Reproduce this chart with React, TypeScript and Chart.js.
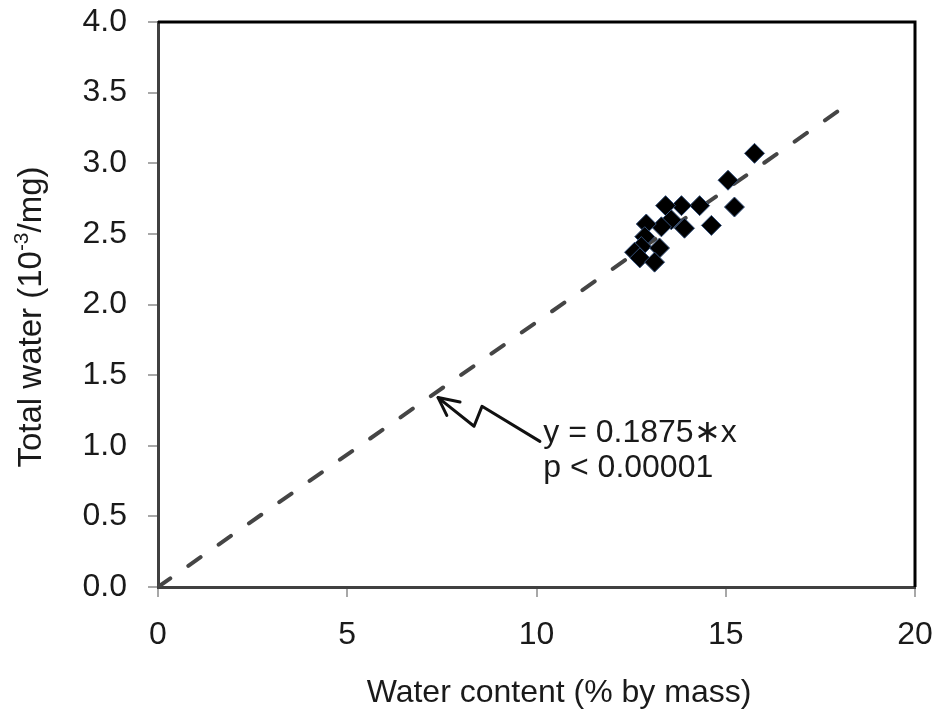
import { useEffect, useRef } from 'react';
import { Chart, registerables } from 'chart.js';

Chart.register(...registerables);

// Measured points: water content (% by mass) vs total water (10^-3/mg)
const WATER_CONTENT = [15.76, 15.06, 15.23, 14.31, 14.62, 13.83, 13.41, 13.91, 13.56, 13.3, 12.9, 12.86, 12.77, 13.25, 12.59, 12.73, 13.12];
const TOTAL_WATER = [3.07, 2.88, 2.69, 2.7, 2.56, 2.7, 2.7, 2.54, 2.6, 2.55, 2.57, 2.48, 2.41, 2.4, 2.37, 2.33, 2.3];

// Regression line end points (y = 0.1875*x)
const FIT_X = [0, 18];
const FIT_Y = [0, 3.375];

const X_TICKS = [0, 5, 10, 15, 20];
const Y_TICKS = [0, 0.5, 1, 1.5, 2, 2.5, 3, 3.5, 4];

const X_TITLE = 'Water content (% by mass)';
const Y_TITLE_PARTS = ['Total water (10', '-3', '/mg)'];
const EQUATION_LINES = ['y = 0.1875\u2217x', 'p < 0.00001'];

// Annotation anchors in data coordinates
const LABEL_X = 10.18;
const LABEL_Y = [1.088, 0.84];
const ARROW_X = [7.4, 8.35, 8.56, 10.09];
const ARROW_Y = [1.341, 1.138, 1.279, 1.031];
const ARROW_HEAD_X = [7.98, 7.4, 7.63];
const ARROW_HEAD_Y = [1.31, 1.341, 1.215];

const FONT = '"Liberation Sans", Arial, sans-serif';

const decorPlugin = {
  id: 'decor',
  afterDraw(chart: any) {
    const { ctx, chartArea: a, scales } = chart;
    const xs = scales.x;
    const ys = scales.y;
    ctx.save();
    // top & right frame
    ctx.strokeStyle = '#000';
    ctx.lineWidth = 3;
    ctx.beginPath();
    ctx.moveTo(a.left, a.top);
    ctx.lineTo(a.right, a.top);
    ctx.lineTo(a.right, a.bottom);
    ctx.stroke();

    // arrow
    ctx.strokeStyle = '#111';
    ctx.lineWidth = 3;
    ctx.lineJoin = 'round';
    ctx.lineCap = 'round';
    ctx.beginPath();
    ARROW_X.forEach((v, i) => {
      const px = xs.getPixelForValue(v);
      const py = ys.getPixelForValue(ARROW_Y[i]);
      if (i === 0) ctx.moveTo(px, py);
      else ctx.lineTo(px, py);
    });
    ctx.stroke();
    ctx.beginPath();
    ARROW_HEAD_X.forEach((v, i) => {
      const px = xs.getPixelForValue(v);
      const py = ys.getPixelForValue(ARROW_HEAD_Y[i]);
      if (i === 0) ctx.moveTo(px, py);
      else ctx.lineTo(px, py);
    });
    ctx.stroke();

    // equation text
    ctx.fillStyle = '#1a1a1a';
    ctx.font = `32px ${FONT}`;
    ctx.textAlign = 'left';
    ctx.textBaseline = 'middle';
    EQUATION_LINES.forEach((t, i) => {
      ctx.fillText(t, xs.getPixelForValue(LABEL_X), ys.getPixelForValue(LABEL_Y[i]));
    });

    // x title
    ctx.textAlign = 'center';
    ctx.fillText(X_TITLE, 559, 693);

    // y title with superscript
    const mainFont = `33px ${FONT}`;
    const supFont = `21px ${FONT}`;
    ctx.font = mainFont;
    const w0 = ctx.measureText(Y_TITLE_PARTS[0]).width;
    const w2 = ctx.measureText(Y_TITLE_PARTS[2]).width;
    ctx.font = supFont;
    const w1 = ctx.measureText(Y_TITLE_PARTS[1]).width;
    const total = w0 + w1 + w2;
    ctx.translate(29, 317);
    ctx.rotate(-Math.PI / 2);
    ctx.textAlign = 'left';
    ctx.textBaseline = 'alphabetic';
    let cx = -total / 2;
    const base = 12;
    ctx.font = mainFont;
    ctx.fillText(Y_TITLE_PARTS[0], cx, base);
    cx += w0;
    ctx.font = supFont;
    ctx.fillText(Y_TITLE_PARTS[1], cx, base - 13);
    cx += w1;
    ctx.font = mainFont;
    ctx.fillText(Y_TITLE_PARTS[2], cx, base);
    ctx.restore();
  },
};

const zeroPadding = (s: any) => {
  s.paddingTop = 0;
  s.paddingBottom = 0;
  s.paddingLeft = 0;
  s.paddingRight = 0;
};

export default function App() {
  const ref = useRef<HTMLCanvasElement | null>(null);

  useEffect(() => {
    if (!ref.current) return;
    const chart = new Chart(ref.current, {
      type: 'scatter',
      data: {
        datasets: [
          {
            label: 'Data',
            data: WATER_CONTENT.map((x, i) => ({ x, y: TOTAL_WATER[i] })),
            pointStyle: 'rectRot',
            pointRadius: 10,
            backgroundColor: '#000',
            borderColor: '#34507a',
            borderWidth: 1,
            order: 0,
          },
          {
            label: 'Fit',
            data: FIT_X.map((x, i) => ({ x, y: FIT_Y[i] })),
            showLine: true,
            pointRadius: 0,
            borderColor: '#454545',
            borderWidth: 4,
            borderDash: [15, 22],
            borderCapStyle: 'round',
            order: 1,
          } as any,
        ],
      },
      options: {
        animation: false,
        responsive: true,
        maintainAspectRatio: false,
        layout: { padding: { left: 0, right: 25, top: 22, bottom: 0 } },
        plugins: {
          legend: { display: false },
          tooltip: { enabled: false },
        },
        scales: {
          x: {
            type: 'linear',
            min: 0,
            max: 20,
            afterBuildTicks: (s: any) => {
              s.ticks = X_TICKS.map((v) => ({ value: v }));
            },
            afterFit: (s: any) => {
              s.height = 131;
              zeroPadding(s);
            },
            ticks: {
              color: '#1a1a1a',
              font: { family: FONT, size: 32 },
              padding: 19,
              maxRotation: 0,
              callback: (v: any) => String(v),
            },
            grid: {
              display: true,
              drawOnChartArea: false,
              drawTicks: true,
              tickLength: 10,
              color: '#a8a8a8',
              lineWidth: 2,
            },
            border: { display: true, color: '#404040', width: 3 },
          },
          y: {
            type: 'linear',
            min: 0,
            max: 4,
            afterBuildTicks: (s: any) => {
              s.ticks = Y_TICKS.map((v) => ({ value: v }));
            },
            afterFit: (s: any) => {
              s.width = 158;
              zeroPadding(s);
            },
            ticks: {
              color: '#1a1a1a',
              font: { family: FONT, size: 32 },
              padding: 21,
              callback: (v: any) => Number(v).toFixed(1),
            },
            grid: {
              display: true,
              drawOnChartArea: false,
              drawTicks: true,
              tickLength: 10,
              color: '#a8a8a8',
              lineWidth: 2,
            },
            border: { display: true, color: '#404040', width: 3 },
          },
        },
      },
      plugins: [decorPlugin],
    });
    return () => chart.destroy();
  }, []);

  return (
    <div style={{ position: 'fixed', left: 0, top: 0, width: 940, height: 718, background: '#fff' }}>
      <canvas ref={ref} />
    </div>
  );
}
